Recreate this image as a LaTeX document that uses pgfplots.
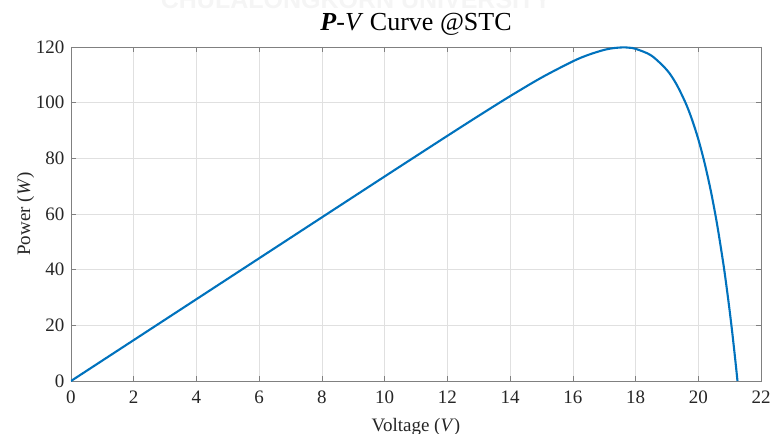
\documentclass[border=0pt]{standalone}
\usepackage{pgfplots}
\pgfplotsset{compat=1.18}
\usepackage{fontspec}
\setmainfont{Liberation Serif}
\setsansfont{Liberation Sans}
\definecolor{mblue}{RGB}{0,114,189}
\definecolor{mtext}{RGB}{38,38,38}
\definecolor{maxis}{RGB}{128,128,128}
\begin{document}
\begin{tikzpicture}[x=1pt,y=1pt]
\useasboundingbox (-71,-53) rectangle (701,381);
\node[anchor=base, font=\sffamily\bfseries\fontsize{25}{25}\selectfont, text=black!4, inner sep=0pt] at (285,372) {CHULALONGKORN UNIVERSITY};
\begin{axis}[
  at={(0,0)}, anchor=south west,
  scale only axis, width=690pt, height=334pt,
  xmin=0, xmax=22, ymin=0, ymax=120,
  xtick={0,2,...,22}, ytick={0,20,...,120},
  grid=major,
  major grid style={black!12, line width=0.5pt},
  axis line style={maxis, line width=0.6pt},
  tick style={maxis, line width=0.6pt},
  tick align=inside, major tick length=5pt,
  /pgf/number format/assume math mode=true,
  ticklabel style={font=\fontsize{19}{19}\selectfont, text=mtext},
  xticklabel style={anchor=north, yshift=-6pt},
  yticklabel style={anchor=east, xshift=-3pt},
  title={\textbf{\textit{P}}-\textit{V} Curve @STC},
  title style={at={(axis description cs:0.5,1.03)}, anchor=base, inner sep=1pt, font=\fontsize{26}{26}\selectfont, text=black},
  xlabel={Voltage (\textit{V})},
  xlabel style={at={(axis description cs:0.5,-0.1497)}, anchor=base, font=\fontsize{19}{19}\selectfont, text=mtext},
  ylabel={Power (\textit{W})},
  ylabel style={at={(axis description cs:-0.0594,0.5)}, anchor=base, font=\fontsize{19}{19}\selectfont, text=mtext},
]
\addplot[mblue, line width=2.1pt, smooth, line join=round] coordinates {
(0,0) (2,14.70) (4,29.40) (6,44.10) (8,58.80) (10,73.48) (11,80.79) (12,88.08)
(13,95.29) (14,102.33) (15,109.0) (16,114.85) (16.5,117.2) (17,118.97)
(17.3,119.6) (17.6,119.86) (17.8,119.74) (18,119.35) (18.5,116.96)
(19,111.72) (19.3,106.7) (19.6,99.8) (19.8,93.94) (20.0,86.9) (20.2,78.4)
(20.4,68.3) (20.6,56.3) (20.8,42.1) (20.9,34.0) (21.0,25.3) (21.1,15.8)
(21.2,5.47) (21.25,0)
};
\end{axis}
\end{tikzpicture}
\end{document}
